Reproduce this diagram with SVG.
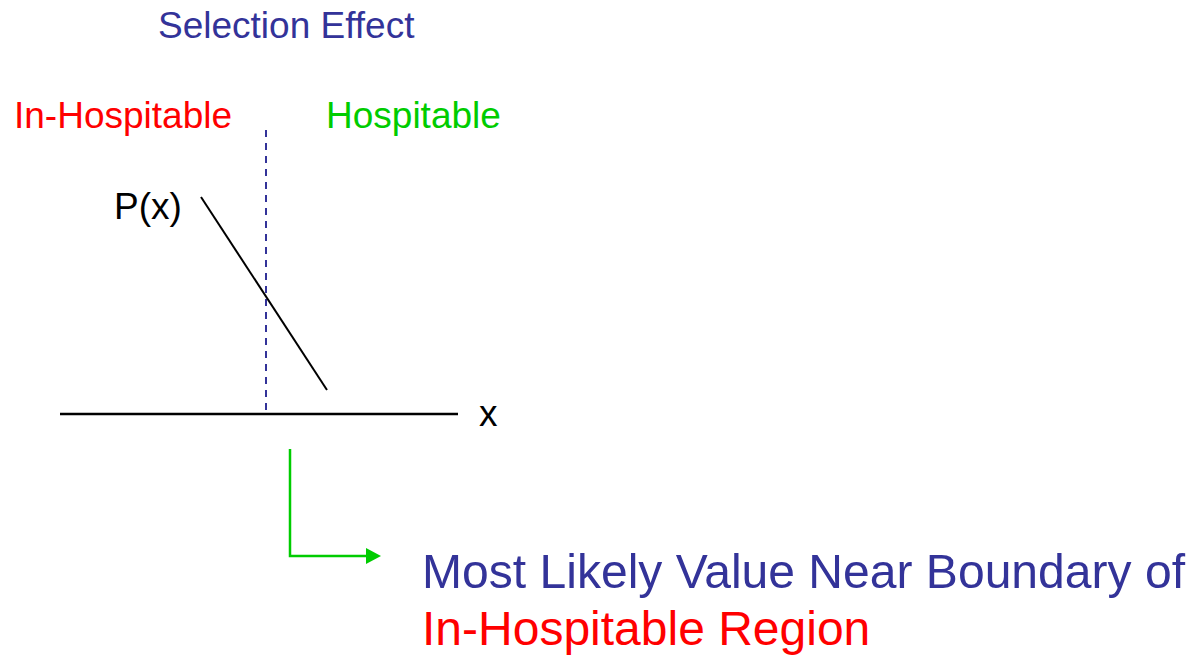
<svg xmlns="http://www.w3.org/2000/svg" width="1196" height="657" viewBox="0 0 1196 657">
<style>
text{font-family:"Liberation Sans",Arial,sans-serif;}
.blue{fill:#333399;}
.red{fill:#ff0000;}
.green{fill:#00cc00;}
.black{fill:#000000;}
.t36{font-size:37px;}
.t48{font-size:48px;}
</style>
<defs>
<marker id="garrow" markerWidth="15" markerHeight="16" refX="1" refY="8" orient="auto" markerUnits="userSpaceOnUse">
<path d="M0,0 L15,8 L0,16 Z" fill="#00cc00"/>
</marker>
</defs>
<rect width="1196" height="657" fill="#ffffff"/>
<g id="title"><text class="blue t36" x="158" y="38">Selection Effect</text></g>
<g id="inhospitable"><text class="red t36" x="14" y="128">In-Hospitable</text></g>
<g id="hospitable"><text class="green t36" x="326" y="128">Hospitable</text></g>
<g id="px-label"><text class="black t36" x="114" y="219">P(x)</text></g>
<g id="x-label"><text class="black t36" x="479" y="426">x</text></g>
<g id="conclusion">
<text class="blue t48" x="422" y="588" textLength="763" lengthAdjust="spacingAndGlyphs">Most Likely Value Near Boundary of</text>
<text class="red t48" x="422" y="645">In-Hospitable Region</text>
</g>
<g id="connectors">
<line id="axis" x1="60" y1="414" x2="458" y2="414" stroke="#000" stroke-width="2.5"/>
<line id="boundary" x1="266" y1="130" x2="266" y2="412" stroke="#333399" stroke-width="2" stroke-dasharray="7 6"/>
<line id="px-curve" x1="201" y1="197" x2="327" y2="390" stroke="#000" stroke-width="2"/>
<path id="pointer" d="M290,449 V556 H367" fill="none" stroke="#00cc00" stroke-width="2.5" marker-end="url(#garrow)"/>
</g>
</svg>
